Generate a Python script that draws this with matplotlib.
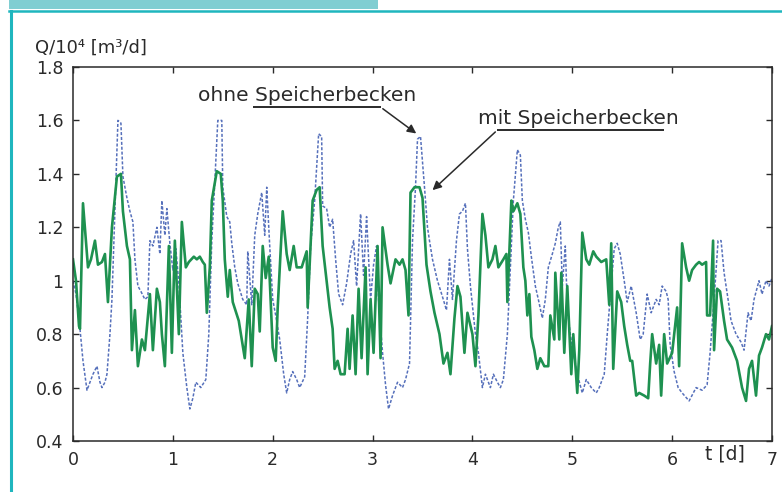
import matplotlib
matplotlib.use("Agg")
import matplotlib.pyplot as plt
from matplotlib.patches import Rectangle
from matplotlib.lines import Line2D

# --- data (t in days, Q in 10^4 m3/d) ---
t_ohne = [0.00, 0.03, 0.07, 0.10, 0.14, 0.17, 0.20, 0.24, 0.27, 0.29, 0.32, 0.34, 0.37, 0.39,
          0.42, 0.45, 0.48, 0.50, 0.54, 0.57, 0.60, 0.62, 0.65, 0.68, 0.72, 0.75, 0.77, 0.80,
          0.84, 0.87, 0.89, 0.92, 0.94, 0.97, 1.00, 1.03, 1.06, 1.10, 1.14, 1.17, 1.20, 1.23,
          1.28, 1.33, 1.36, 1.39, 1.42, 1.45, 1.49, 1.50, 1.54, 1.57, 1.59, 1.62, 1.65, 1.70,
          1.74, 1.75, 1.79, 1.82, 1.85, 1.89, 1.92, 1.94, 1.97, 2.00, 2.03, 2.07, 2.11, 2.14,
          2.17, 2.20, 2.24, 2.27, 2.32, 2.35, 2.38, 2.42, 2.46, 2.49, 2.50, 2.54, 2.57, 2.60,
          2.63, 2.66, 2.70, 2.74, 2.78, 2.81, 2.84, 2.88, 2.91, 2.94, 2.98, 3.01, 3.04, 3.06,
          3.10, 3.13, 3.16, 3.20, 3.25, 3.30, 3.33, 3.37, 3.40, 3.43, 3.45, 3.48, 3.52, 3.55,
          3.57, 3.60, 3.65, 3.70, 3.74, 3.77, 3.80, 3.84, 3.87, 3.90, 3.93, 3.95, 3.98, 4.03,
          4.06, 4.10, 4.13, 4.18, 4.21, 4.25, 4.28, 4.31, 4.35, 4.38, 4.41, 4.45, 4.48, 4.50,
          4.53, 4.56, 4.59, 4.63, 4.66, 4.70, 4.73, 4.76, 4.80, 4.83, 4.86, 4.88, 4.90, 4.93,
          4.95, 4.98, 5.01, 5.05, 5.10, 5.14, 5.19, 5.24, 5.27, 5.32, 5.35, 5.39, 5.42, 5.45,
          5.48, 5.52, 5.55, 5.59, 5.64, 5.68, 5.71, 5.75, 5.79, 5.84, 5.87, 5.90, 5.94, 5.96,
          5.98, 6.02, 6.06, 6.10, 6.17, 6.24, 6.30, 6.35, 6.38, 6.42, 6.46, 6.49, 6.52, 6.56,
          6.59, 6.64, 6.69, 6.72, 6.76, 6.79, 6.82, 6.87, 6.90, 6.94, 6.97, 7.00]
q_ohne = [1.00, 0.95, 0.82, 0.70, 0.59, 0.62, 0.65, 0.68, 0.62, 0.60, 0.62, 0.65, 0.80, 0.93,
          1.26, 1.60, 1.59, 1.39, 1.31, 1.26, 1.22, 1.08, 0.98, 0.96, 0.93, 0.94, 1.15, 1.13,
          1.20, 1.10, 1.30, 1.17, 1.27, 1.14, 1.04, 1.12, 0.99, 0.73, 0.60, 0.52, 0.56, 0.62,
          0.60, 0.63, 0.80, 1.15, 1.37, 1.60, 1.60, 1.35, 1.24, 1.22, 1.14, 1.05, 0.99, 0.93,
          0.91, 1.11, 0.91, 1.17, 1.25, 1.33, 1.17, 1.35, 1.13, 0.93, 0.87, 0.78, 0.65, 0.58,
          0.63, 0.66, 0.63, 0.60, 0.64, 0.86, 1.13, 1.30, 1.55, 1.54, 1.28, 1.27, 1.20, 1.23,
          1.08, 0.95, 0.91, 0.99, 1.10, 1.15, 0.98, 1.25, 1.02, 1.24, 0.93, 1.06, 1.13, 0.93,
          0.73, 0.61, 0.52, 0.57, 0.62, 0.60, 0.63, 0.69, 1.15, 1.35, 1.53, 1.54, 1.35, 1.20,
          1.15, 1.08, 1.00, 0.94, 0.89, 1.08, 0.93, 1.15, 1.25, 1.26, 1.29, 1.12, 0.98, 0.80,
          0.73, 0.60, 0.65, 0.60, 0.65, 0.62, 0.60, 0.63, 0.80, 1.05, 1.30, 1.49, 1.47, 1.30,
          1.23, 1.18, 1.09, 0.98, 0.93, 0.86, 0.93, 1.05, 1.10, 1.14, 1.20, 1.22, 0.98, 1.13,
          0.90, 0.80, 0.73, 0.65, 0.58, 0.63, 0.60, 0.58, 0.60, 0.65, 0.80, 0.98, 1.12, 1.14,
          1.10, 1.00, 0.92, 0.98, 0.88, 0.78, 0.80, 0.95, 0.88, 0.93, 0.91, 0.98, 0.96, 0.93,
          0.76, 0.66, 0.60, 0.58, 0.55, 0.60, 0.59, 0.61, 0.73, 0.93, 1.15, 1.15, 1.03, 0.93,
          0.85, 0.80, 0.77, 0.74, 0.88, 0.85, 0.93, 1.00, 0.95, 1.00, 0.98, 1.01]

t_mit = [0.00, 0.03, 0.06, 0.07, 0.10, 0.15, 0.18, 0.22, 0.25, 0.29, 0.32, 0.35, 0.39, 0.44,
         0.48, 0.50, 0.54, 0.57, 0.59, 0.62, 0.65, 0.69, 0.72, 0.77, 0.80, 0.84, 0.87, 0.89,
         0.92, 0.96, 0.99, 1.02, 1.06, 1.09, 1.13, 1.16, 1.21, 1.24, 1.27, 1.30, 1.32, 1.34,
         1.37, 1.39, 1.44, 1.48, 1.50, 1.52, 1.55, 1.57, 1.60, 1.66, 1.69, 1.72, 1.76, 1.79,
         1.82, 1.85, 1.87, 1.90, 1.93, 1.96, 2.00, 2.03, 2.05, 2.10, 2.14, 2.17, 2.21, 2.24,
         2.29, 2.34, 2.35, 2.40, 2.44, 2.47, 2.50, 2.54, 2.57, 2.60, 2.62, 2.65, 2.68, 2.72,
         2.75, 2.77, 2.80, 2.83, 2.86, 2.89, 2.93, 2.95, 2.98, 3.01, 3.05, 3.08, 3.10, 3.15,
         3.18, 3.23, 3.27, 3.30, 3.33, 3.36, 3.38, 3.42, 3.47, 3.50, 3.54, 3.58, 3.62, 3.67,
         3.71, 3.75, 3.78, 3.82, 3.85, 3.88, 3.92, 3.95, 4.00, 4.03, 4.06, 4.10, 4.13, 4.16,
         4.20, 4.23, 4.26, 4.31, 4.34, 4.35, 4.39, 4.41, 4.45, 4.48, 4.51, 4.53, 4.55, 4.57,
         4.59, 4.62, 4.65, 4.68, 4.72, 4.76, 4.78, 4.82, 4.83, 4.87, 4.89, 4.92, 4.95, 4.99,
         5.01, 5.05, 5.07, 5.10, 5.14, 5.17, 5.21, 5.24, 5.29, 5.34, 5.37, 5.39, 5.41, 5.45,
         5.49, 5.52, 5.55, 5.58, 5.60, 5.64, 5.67, 5.72, 5.76, 5.78, 5.80, 5.84, 5.87, 5.89,
         5.92, 5.95, 6.00, 6.05, 6.07, 6.10, 6.14, 6.17, 6.20, 6.24, 6.27, 6.30, 6.34, 6.35,
         6.38, 6.41, 6.42, 6.45, 6.48, 6.52, 6.55, 6.60, 6.65, 6.70, 6.74, 6.77, 6.80, 6.84,
         6.87, 6.90, 6.94, 6.97, 7.00]
q_mit = [1.08, 1.00, 0.83, 0.82, 1.29, 1.05, 1.08, 1.15, 1.06, 1.07, 1.10, 0.92, 1.20, 1.39,
         1.40, 1.26, 1.13, 1.08, 0.74, 0.89, 0.68, 0.78, 0.74, 0.95, 0.74, 0.97, 0.92, 0.80,
         0.68, 1.13, 0.73, 1.15, 0.80, 1.22, 1.05, 1.07, 1.09, 1.08, 1.09, 1.07, 1.06, 0.88,
         1.05, 1.30, 1.41, 1.40, 1.30, 1.08, 0.94, 1.04, 0.92, 0.85, 0.78, 0.71, 0.93, 0.68,
         0.97, 0.95, 0.81, 1.13, 1.01, 1.09, 0.75, 0.70, 0.90, 1.26, 1.10, 1.04, 1.13, 1.05,
         1.05, 1.11, 0.90, 1.30, 1.34, 1.35, 1.13, 1.00, 0.90, 0.82, 0.67, 0.70, 0.65, 0.65,
         0.82, 0.67, 0.87, 0.65, 0.97, 0.71, 1.05, 0.65, 0.93, 0.73, 1.13, 0.71, 1.20, 1.06,
         0.99, 1.08, 1.06, 1.08, 1.04, 0.87, 1.33, 1.35, 1.35, 1.31, 1.06, 0.96, 0.88, 0.80,
         0.69, 0.73, 0.65, 0.86, 0.98, 0.94, 0.73, 0.88, 0.80, 0.68, 0.87, 1.25, 1.17, 1.05,
         1.08, 1.13, 1.05, 1.08, 1.10, 0.92, 1.30, 1.26, 1.29, 1.25, 1.05, 1.00, 0.87, 0.95,
         0.79, 0.74, 0.67, 0.71, 0.68, 0.68, 0.87, 0.78, 1.03, 0.78, 1.03, 0.73, 0.98, 0.65,
         0.80, 0.58, 0.74, 1.18, 1.08, 1.06, 1.11, 1.09, 1.07, 1.08, 0.91, 1.14, 0.67, 0.96,
         0.92, 0.83, 0.76, 0.70, 0.70, 0.57, 0.58, 0.57, 0.56, 0.69, 0.80, 0.69, 0.76, 0.57,
         0.80, 0.69, 0.73, 0.90, 0.68, 1.14, 1.05, 1.00, 1.04, 1.06, 1.07, 1.06, 1.07, 0.87,
         0.87, 1.15, 0.74, 0.97, 0.96, 0.85, 0.78, 0.75, 0.70, 0.60, 0.55, 0.67, 0.70, 0.57,
         0.72, 0.75, 0.80, 0.78, 0.83]

x_ticks = [0, 1, 2, 3, 4, 5, 6, 7]
y_ticks = [0.4, 0.6, 0.8, 1.0, 1.2, 1.4, 1.6, 1.8]
y_ticklabels = ['0.4', '0.6', '0.8', '1', '1.2', '1.4', '1.6', '1.8']

label_ohne = 'ohne Speicherbecken'
label_mit = 'mit Speicherbecken'

# colours
c_ohne = '#5670bb'
c_mit = '#1e9150'
c_frame = '#1fb6be'
c_bar = '#80ced2'
c_ink = '#2a2a2a'

fig = plt.figure(figsize=(7.82, 4.92), dpi=100)
fig.patch.set_facecolor('white')

# teal page decoration of the scanned page
fig.patches.append(Rectangle((9 / 782, 1 - 9 / 492), 369 / 782, 9 / 492,
                             transform=fig.transFigure, facecolor=c_bar,
                             edgecolor='none'))
fig.lines.append(Line2D([9 / 782, 1], [1 - 11 / 492, 1 - 11 / 492],
                        transform=fig.transFigure, color=c_frame, lw=1.8))
fig.lines.append(Line2D([11 / 782, 11 / 782], [0, 1 - 11 / 492],
                        transform=fig.transFigure, color=c_frame, lw=2.2))

ax = fig.add_axes([73 / 782, 1 - 441 / 492, 699 / 782, 374 / 492])

ax.plot(t_ohne, q_ohne, color=c_ohne, lw=1.1, dashes=(2.0, 1.2))
ax.plot(t_mit, q_mit, color=c_mit, lw=1.9)

ax.set_xlim(0, 7)
ax.set_ylim(0.4, 1.8)
ax.set_xticks(x_ticks)
ax.set_yticks(y_ticks)
ax.set_yticklabels(y_ticklabels)
ax.tick_params(direction='in', length=4, width=1, colors=c_ink, labelsize=12.5,
               top=True, right=True, pad=7)
for s in ax.spines.values():
    s.set_color(c_ink)
    s.set_linewidth(1.1)

# axis captions
ax.text(-0.054, 1.051, 'Q/10\u2074 [m\u00b3/d]', transform=ax.transAxes,
        ha='left', va='center', fontsize=13, color=c_ink)
ax.text(0.933, -0.035, 't [d]', transform=ax.transAxes,
        ha='center', va='center', fontsize=13.5, color=c_ink)

# annotations with underline and leader arrow
arrow_kw = dict(arrowstyle='-|>', color=c_ink, lw=1.1, mutation_scale=13)
ax.text(2.34, 1.695, label_ohne, ha='center', va='center', fontsize=14.5, color=c_ink)
ax.plot([1.80, 3.08], [1.650, 1.650], color=c_ink, lw=1.4, solid_capstyle='butt')
ax.annotate('', xy=(3.46, 1.545), xytext=(3.08, 1.650), arrowprops=arrow_kw)

ax.text(5.06, 1.609, label_mit, ha='center', va='center', fontsize=14.5, color=c_ink)
ax.plot([4.25, 5.92], [1.564, 1.564], color=c_ink, lw=1.4, solid_capstyle='butt')
ax.annotate('', xy=(3.58, 1.332), xytext=(4.25, 1.564), arrowprops=arrow_kw)

fig.savefig('out.png', dpi=100)
